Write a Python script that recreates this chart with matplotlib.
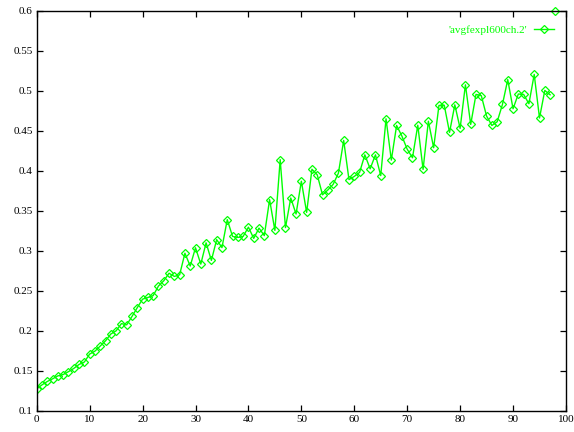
import numpy as np
import matplotlib
matplotlib.use('Agg')
import matplotlib.pyplot as plt

# data
steps = list(range(98))
avg = [0.1275, 0.1325, 0.1367, 0.140, 0.1437, 0.1454, 0.149, 0.153, 0.158, 0.161,
       0.171, 0.1746, 0.181, 0.1875, 0.196, 0.200, 0.209, 0.2075, 0.218, 0.229,
       0.2396, 0.2417, 0.244, 0.256, 0.2625, 0.272, 0.268, 0.270, 0.297, 0.281,
       0.3038, 0.2834, 0.310, 0.288, 0.314, 0.304, 0.339, 0.318, 0.3167, 0.318,
       0.3296, 0.3155, 0.3284, 0.319, 0.364, 0.3255, 0.414, 0.329, 0.366, 0.346,
       0.387, 0.348, 0.402, 0.395, 0.370, 0.376, 0.383, 0.397, 0.438, 0.389,
       0.393, 0.398, 0.420, 0.4025, 0.420, 0.394, 0.465, 0.4134, 0.4567, 0.4434,
       0.427, 0.4163, 0.457, 0.4017, 0.462, 0.4288, 0.4817, 0.482, 0.448, 0.4825,
       0.453, 0.5075, 0.458, 0.4955, 0.494, 0.4684, 0.4567, 0.4613, 0.483, 0.514,
       0.4775, 0.496, 0.4955, 0.4838, 0.5205, 0.466, 0.5005, 0.495]
# stray point sitting on the top border
extra_x = [98]
extra_y = [0.6]

label = "'avgfexpl600ch.2'"
green = '#00ff00'

plt.rcParams['font.family'] = 'Liberation Serif'
plt.rcParams['font.size'] = 8

fig = plt.figure(figsize=(5.74, 4.32), dpi=100)
ax = fig.add_axes([0.064, 0.049, 0.922, 0.926])

ax.plot(steps, avg, color=green, lw=1, marker='D', ms=3.6, mfc='none',
        mec=green, mew=0.9, label=label)
ax.plot(extra_x, extra_y, ls='none', marker='D', ms=3.6, mfc='none',
        mec=green, mew=0.9, clip_on=False)

ax.set_xlim(0, 100)
ax.set_ylim(0.1, 0.6)
ax.set_xticks(np.arange(0, 101, 10))
ax.set_yticks(np.arange(0.1, 0.61, 0.05))
ax.set_yticklabels(['0.1', '0.15', '0.2', '0.25', '0.3', '0.35', '0.4',
                    '0.45', '0.5', '0.55', '0.6'])
ax.tick_params(direction='in', top=True, right=True, length=4, width=0.9,
               labelsize=8, pad=3)
for s in ax.spines.values():
    s.set_linewidth(1)

ax.legend(loc='upper right', frameon=False, markerfirst=False,
          labelcolor=green, handlelength=1.8, handletextpad=0.6, fontsize=8,
          bbox_to_anchor=(0.985, 0.975), borderaxespad=0)

plt.savefig('out.png', dpi=100)
plt.close()
